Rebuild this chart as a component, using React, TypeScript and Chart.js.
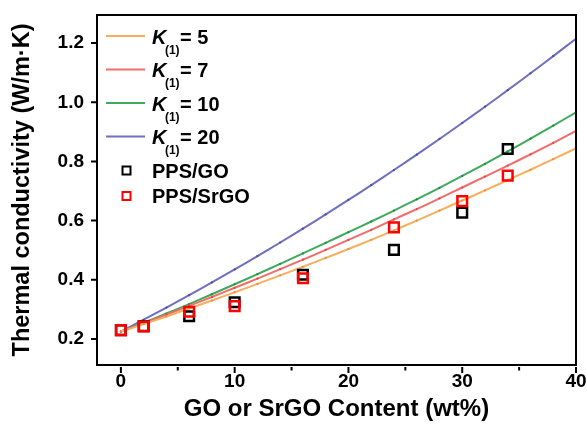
import React, { useEffect, useRef } from "react";
import { Chart, registerables } from "chart.js";

Chart.register(...registerables);

// ---- data ----
const modelX = [0, 2, 4, 6, 8, 10, 12, 14, 16, 18, 20, 22, 24, 26, 28, 30, 32, 34, 36, 38, 40];
const k5 = [0.225, 0.25, 0.276, 0.303, 0.33, 0.358, 0.386, 0.415, 0.444, 0.474, 0.504, 0.535, 0.567, 0.6, 0.634, 0.668, 0.702, 0.737, 0.772, 0.808, 0.844];
const k7 = [0.225, 0.253, 0.282, 0.312, 0.342, 0.373, 0.404, 0.436, 0.468, 0.501, 0.535, 0.569, 0.604, 0.639, 0.675, 0.712, 0.749, 0.786, 0.824, 0.863, 0.903];
const k10 = [0.225, 0.255, 0.286, 0.318, 0.351, 0.385, 0.419, 0.454, 0.489, 0.525, 0.561, 0.597, 0.634, 0.672, 0.711, 0.751, 0.792, 0.834, 0.877, 0.921, 0.966];
const k20 = [0.225, 0.265, 0.306, 0.348, 0.391, 0.435, 0.48, 0.526, 0.573, 0.621, 0.67, 0.72, 0.771, 0.823, 0.876, 0.93, 0.985, 1.041, 1.098, 1.156, 1.215];
const kValues = ["5", "7", "10", "20"];

const sampleX = [0, 2, 6, 10, 16, 24, 30, 34];
const ppsGO = [0.23, 0.243, 0.277, 0.324, 0.417, 0.501, 0.627, 0.842];
const ppsSrGO = [0.23, 0.242, 0.292, 0.311, 0.405, 0.577, 0.666, 0.752];
const scatterNames = ["PPS/GO", "PPS/SrGO"];

const xTicks = [0, 10, 20, 30, 40];
const xMinorTicks = [5, 15, 25, 35];
const yTicks = [0.2, 0.4, 0.6, 0.8, 1.0, 1.2];

const xTitle = "GO or SrGO Content (wt%)";
const yTitle = "Thermal conductivity (W/m\u00B7K)";

// ---- styles ----
const FONT = '"Liberation Sans", Arial, sans-serif';
const lineColors = ["#F9AE5B", "#F36B6B", "#3DAA5C", "#6E6FBE"];
const dotColors = ["#E8903A", "#E04848", "#23883F", "#4A4AA0"];
const scatterColors = ["#000000", "#FF0000"];

const pts = (xs: number[], ys: number[]) => xs.map((x, i) => ({ x, y: ys[i] }));

const framePlugin = {
  id: "frameTicks",
  afterDraw(chart: any) {
    const { ctx, chartArea } = chart;
    const { left, right, top, bottom } = chartArea;
    const xs = chart.scales.x;
    const ys = chart.scales.y;
    ctx.save();
    ctx.strokeStyle = "#000";
    ctx.lineWidth = 2;
    ctx.strokeRect(left, top, right - left, bottom - top);
    ctx.beginPath();
    yTicks.forEach((v) => {
      const y = ys.getPixelForValue(v);
      ctx.moveTo(left - 6, y);
      ctx.lineTo(left, y);
    });
    xTicks.forEach((v) => {
      const x = xs.getPixelForValue(v);
      ctx.moveTo(x, bottom + 2);
      ctx.lineTo(x, bottom + 8);
    });
    xMinorTicks.forEach((v) => {
      const x = xs.getPixelForValue(v);
      ctx.moveTo(x, bottom + 2);
      ctx.lineTo(x, bottom + 5.5);
    });
    ctx.stroke();
    ctx.restore();
  },
};

const legendPlugin = {
  id: "customLegend",
  afterDraw(chart: any) {
    const { ctx, chartArea } = chart;
    const lx0 = chartArea.left + 9;
    const lx1 = chartArea.left + 48;
    const tx = chartArea.left + 55;
    const rowY = [21, 54.5, 88, 121.5];
    ctx.save();
    ctx.textBaseline = "alphabetic";
    ctx.textAlign = "left";
    kValues.forEach((k, i) => {
      const y = chartArea.top + rowY[i];
      ctx.strokeStyle = lineColors[i];
      ctx.lineWidth = 2;
      ctx.beginPath();
      ctx.moveTo(lx0, y);
      ctx.lineTo(lx1, y);
      ctx.stroke();
      ctx.fillStyle = "#000";
      ctx.font = `italic bold 20px ${FONT}`;
      ctx.fillText("K", tx, y + 7.5);
      const kw = ctx.measureText("K").width;
      ctx.font = `bold 12px ${FONT}`;
      ctx.fillText("(1)", tx + kw - 1.5, y + 17.5);
      const sw = ctx.measureText("(1)").width;
      ctx.font = `bold 20px ${FONT}`;
      ctx.fillText("= " + k, tx + kw + sw - 1, y + 7.5);
    });
    const sqY = [155.5, 181];
    scatterNames.forEach((name, i) => {
      const y = chartArea.top + sqY[i];
      const cx = chartArea.left + 29.5;
      ctx.strokeStyle = scatterColors[i];
      ctx.lineWidth = 2;
      ctx.strokeRect(cx - 4, y - 4, 8, 8);
      ctx.fillStyle = "#000";
      ctx.font = `bold 20px ${FONT}`;
      ctx.fillText(name, tx, y + 7);
    });
    ctx.restore();
  },
};

export default function App() {
  const ref = useRef<HTMLCanvasElement | null>(null);
  useEffect(() => {
    if (!ref.current) return;
    const lineSets = [k5, k7, k10, k20].map((vals, i) => ({
      type: "line" as const,
      label: "K(1)= " + kValues[i],
      data: pts(modelX, vals),
      borderColor: lineColors[i],
      backgroundColor: dotColors[i],
      borderWidth: 2,
      pointRadius: 1.1,
      pointBorderWidth: 0,
      pointBackgroundColor: dotColors[i],
      tension: 0.3,
      fill: false,
      order: 2 + i,
    }));
    const chart = new Chart(ref.current, {
      type: "scatter",
      data: {
        datasets: [
          {
            label: scatterNames[1],
            data: pts(sampleX, ppsSrGO),
            pointStyle: "rect",
            pointRadius: 6.8,
            pointBorderWidth: 2.5,
            pointBorderColor: scatterColors[1],
            pointBackgroundColor: "rgba(255,255,255,0)",
            showLine: false,
            order: 0,
          },
          {
            label: scatterNames[0],
            data: pts(sampleX, ppsGO),
            pointStyle: "rect",
            pointRadius: 6.8,
            pointBorderWidth: 2.5,
            pointBorderColor: scatterColors[0],
            pointBackgroundColor: "rgba(255,255,255,0)",
            showLine: false,
            order: 1,
          },
          ...lineSets,
        ] as any,
      },
      options: {
        responsive: false,
        animation: false,
        layout: { padding: { left: 0, top: 15, right: 11, bottom: 0 } },
        plugins: { legend: { display: false }, tooltip: { enabled: false } },
        scales: {
          x: {
            type: "linear",
            min: -2.1,
            max: 40,
            afterBuildTicks: (s: any) => {
              s.ticks = xTicks.map((v) => ({ value: v }));
            },
            afterFit: (s: any) => {
              s.height = 67;
              s.paddingLeft = 0;
              s.paddingRight = 0;
            },
            grid: { display: false, drawTicks: false },
            border: { display: false },
            ticks: {
              padding: 5,
              color: "#000",
              maxRotation: 0,
              autoSkip: false,
              font: { family: FONT, size: 19, weight: "bold" },
            },
            title: {
              display: true,
              text: xTitle,
              color: "#000",
              font: { family: FONT, size: 24, weight: "bold" },
              padding: { top: 0, bottom: 8 },
            },
          },
          y: {
            type: "linear",
            min: 0.112,
            max: 1.295,
            afterBuildTicks: (s: any) => {
              s.ticks = yTicks.map((v) => ({ value: v }));
            },
            afterFit: (s: any) => {
              s.width = 97;
              s.paddingTop = 0;
              s.paddingBottom = 0;
            },
            grid: { display: false, drawTicks: false },
            border: { display: false },
            ticks: {
              padding: 13,
              color: "#000",
              autoSkip: false,
              font: { family: FONT, size: 19, weight: "bold" },
              callback: (v: any) => Number(v).toFixed(1),
            },
            title: {
              display: true,
              text: yTitle,
              color: "#000",
              font: { family: FONT, size: 23.5, weight: "bold" },
              padding: { top: 8, bottom: 0 },
            },
          },
        },
      },
      plugins: [framePlugin, legendPlugin],
    });
    return () => chart.destroy();
  }, []);
  return (
    <div style={{ position: "fixed", left: 0, top: 0, width: 587, height: 432, background: "#fff" }}>
      <canvas ref={ref} width={587} height={432} style={{ display: "block" }} />
    </div>
  );
}
